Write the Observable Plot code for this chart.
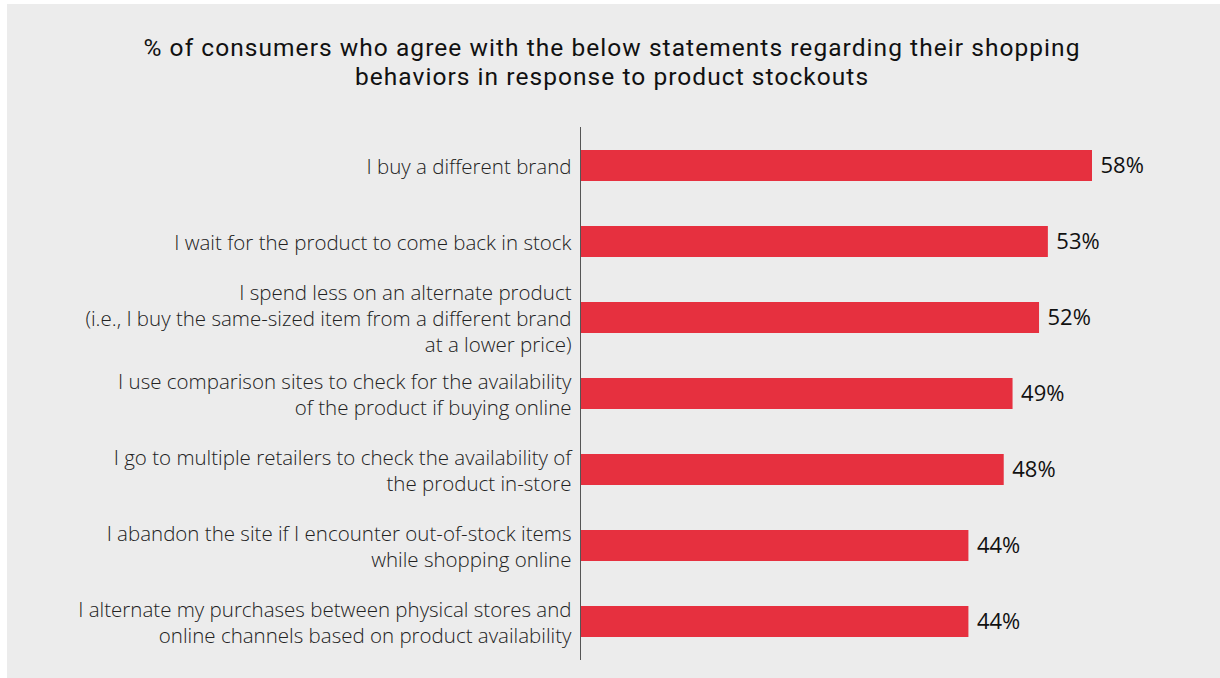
<!DOCTYPE html>
<html>
<head>
<meta charset="utf-8">
<script src="https://cdn.jsdelivr.net/npm/d3@7"></script>
<script src="https://cdn.jsdelivr.net/npm/@observablehq/plot@0.6"></script>
<style>
  html, body { margin: 0; padding: 0; background: #ffffff; width: 1220px; height: 678px; overflow: hidden; }
  #panel { position: absolute; left: 7px; top: 4px; width: 1213px; height: 674px; background: #ececec; }
  .title { position: absolute; left: 0; width: 1224px; height: 29px; text-align: center; white-space: nowrap;
           font-family: Roboto, "Open Sans", sans-serif; font-weight: 400; font-size: 24.5px; line-height: 29px;
           letter-spacing: 1.05px; color: #111; }
  #chart { position: absolute; left: 0; top: 0; }
</style>
</head>
<body>
<div id="panel"></div>
<div class="title" style="top:33px">% of consumers who agree with the below statements regarding their shopping</div>
<div class="title" style="top:62px">behaviors in response to product stockouts</div>
<div id="chart"></div>
<script>
const statements = [
  "I buy a different brand",
  "I wait for the product to come back in stock",
  "I spend less on an alternate product\n(i.e., I buy the same-sized item from a different brand\nat a lower price)",
  "I use comparison sites to check for the availability\nof the product if buying online",
  "I go to multiple retailers to check the availability of\nthe product in-store",
  "I abandon the site if I encounter out-of-stock items\nwhile shopping online",
  "I alternate my purchases between physical stores and\nonline channels based on product availability"
];
const values = [58, 53, 52, 49, 48, 44, 44];

const data = statements.map((s, i) => ({statement: s, value: values[i]}));

const chart = Plot.plot({
  width: 1220,
  height: 678,
  marginTop: 127,
  marginBottom: 18,
  marginLeft: 580,
  marginRight: 128,
  style: {background: "transparent", fontFamily: "'Open Sans', sans-serif"},
  x: {domain: [0, 58], axis: null},
  y: {domain: statements, paddingInner: 0.59, paddingOuter: 0.295, align: 0.5, axis: null},
  marks: [
    Plot.barX(data, {x: "value", y: "statement", fill: "#e6303f"}),
    Plot.ruleX([0], {stroke: "#555", strokeWidth: 1}),
    Plot.axisY({tickSize: 0, tickPadding: 9, fontSize: 20.5, lineHeight: 1.26, fill: "#222", fontWeight: 300, label: null}),
    Plot.text(data, {x: "value", y: "statement", text: d => d.value + "%", dx: 8, textAnchor: "start", fontSize: 22, fill: "#111"})
  ]
});
document.getElementById("chart").appendChild(chart);
</script>
</body>
</html>
